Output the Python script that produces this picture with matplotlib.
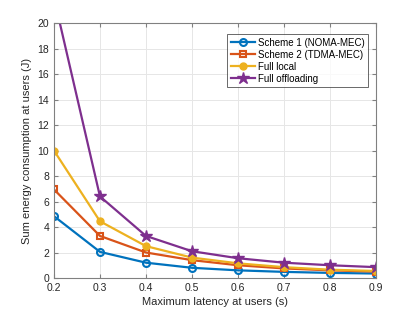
import matplotlib
matplotlib.use("Agg")
import matplotlib.pyplot as plt

latency = [0.2, 0.3, 0.4, 0.5, 0.6, 0.7, 0.8, 0.9]
scheme1 = [4.85, 2.05, 1.2, 0.8, 0.6, 0.48, 0.4, 0.35]
scheme2 = [6.95, 3.3, 2.0, 1.4, 1.0, 0.75, 0.6, 0.5]
full_local = [10.0, 4.45, 2.5, 1.6, 1.15, 0.85, 0.65, 0.55]
full_off = [22.0, 6.4, 3.3, 2.1, 1.55, 1.2, 1.0, 0.85]

plt.rcParams['font.family'] = ['Liberation Sans', 'DejaVu Sans']
fig = plt.figure(figsize=(4.15, 3.12), dpi=100)
ax = fig.add_axes([0.130, 0.109, 0.776, 0.817])

ax.plot(latency, scheme1, color='#0072BD', lw=1.6, marker='o', ms=5, mfc='none', mew=1.5,
        label='Scheme 1 (NOMA-MEC)')
ax.plot(latency, scheme2, color='#D95319', lw=1.6, marker='s', ms=5, mfc='none', mew=1.5,
        label='Scheme 2 (TDMA-MEC)')
ax.plot(latency, full_local, color='#EDB120', lw=1.6, marker='o', ms=5, mfc='#EDB120',
        label='Full local')
ax.plot(latency, full_off, color='#7E2F8E', lw=1.6, marker='*', ms=9, mfc='#7E2F8E',
        label='Full offloading')

ax.set_xlim(0.2, 0.9)
ax.set_ylim(0, 20)
ax.set_xticks(latency)
ax.set_xticklabels(['0.2', '0.3', '0.4', '0.5', '0.6', '0.7', '0.8', '0.9'])
ax.set_yticks(range(0, 21, 2))
ax.grid(True, color='#e6e6e6', lw=0.7)
ax.set_axisbelow(True)
for s in ax.spines.values():
    s.set_color('#808080')
    s.set_linewidth(0.8)
ax.tick_params(direction='in', length=3, color='#808080', labelsize=7.5, labelcolor='#262626',
               top=True, right=True)
ax.set_xlabel('Maximum latency at users (s)', fontsize=8, color='#262626', labelpad=3)
ax.set_ylabel('Sum energy consumption at users (J)', fontsize=8, color='#262626', labelpad=4)

leg = ax.legend(loc='upper right', bbox_to_anchor=(0.99, 0.975), fontsize=7, frameon=True,
                fancybox=False, edgecolor='#262626', handlelength=2.5, borderpad=0.35,
                labelspacing=0.2, handletextpad=0.3)
leg.get_frame().set_linewidth(0.6)

fig.savefig('out.png', dpi=100)
